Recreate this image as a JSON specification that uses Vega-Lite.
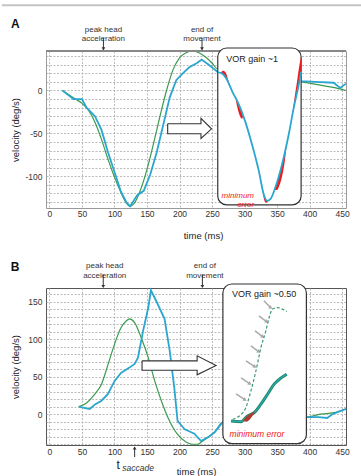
{
  "$schema": "https://vega.github.io/schema/vega-lite/v6.json",
  "padding": {"left": 0, "top": 3, "right": 0, "bottom": 0},
  "spacing": 80,
  "bounds": "flush",
  "config": {
    "font": "Liberation Sans",
    "view": {"stroke": "#999", "strokeWidth": 1},
    "axis": {"ticks": false, "domain": false, "labelFontSize": 8.5, "labelColor": "#333", "titleFontSize": 9.5, "titleFontWeight": "normal", "titleColor": "#222", "gridDash": [2, 1.5], "gridColor": "#aaa", "gridWidth": 0.8, "labelOverlap": false, "labelFlush": false},
    "text": {"font": "Liberation Sans"}
  },
  "datasets": {
    "aHead": [{"t":20,"v":0},{"t":30,"v":-5},{"t":40,"v":-10},{"t":50,"v":-15},{"t":60,"v":-23},{"t":70,"v":-37},{"t":80,"v":-57},{"t":90,"v":-80},{"t":100,"v":-101},{"t":110,"v":-119},{"t":118,"v":-131},{"t":124,"v":-135},{"t":130,"v":-132},{"t":140,"v":-116},{"t":150,"v":-92},{"t":160,"v":-62},{"t":170,"v":-30},{"t":180,"v":0},{"t":190,"v":24},{"t":200,"v":38},{"t":210,"v":44},{"t":220,"v":46},{"t":230,"v":44},{"t":240,"v":39},{"t":250,"v":32},{"t":258,"v":25},{"t":388,"v":10},{"t":410,"v":7},{"t":440,"v":3},{"t":456,"v":0}],
    "aEye": [{"t":20,"v":0},{"t":30,"v":-6},{"t":37,"v":-10},{"t":50,"v":-10},{"t":57,"v":-20},{"t":70,"v":-30},{"t":80,"v":-46},{"t":90,"v":-72},{"t":100,"v":-95},{"t":110,"v":-118},{"t":118,"v":-130},{"t":124,"v":-135},{"t":130,"v":-128},{"t":135,"v":-122},{"t":145,"v":-117},{"t":155,"v":-98},{"t":165,"v":-72},{"t":175,"v":-40},{"t":185,"v":-8},{"t":195,"v":12},{"t":205,"v":20},{"t":215,"v":27},{"t":227,"v":32},{"t":234,"v":36},{"t":245,"v":30},{"t":258,"v":22},{"t":388,"v":11},{"t":409,"v":10},{"t":437,"v":9},{"t":447,"v":3},{"t":456,"v":8}],
    "aInset": [{"t":259,"v":21},{"t":265,"v":20},{"t":272,"v":14},{"t":281,"v":-1},{"t":291,"v":-16},{"t":301,"v":-36},{"t":311.5,"v":-63},{"t":322,"v":-94},{"t":329.5,"v":-121},{"t":334.6,"v":-128.7},{"t":339.7,"v":-126.7},{"t":347.4,"v":-113},{"t":357.7,"v":-86},{"t":368,"v":-51},{"t":375.7,"v":-20},{"t":383.4,"v":7},{"t":387,"v":22}],
    "aRed": [
      {"g":1,"t":263,"v":20.3,"v2":20.3},{"g":1,"t":267,"v":18.3,"v2":23},{"g":1,"t":271,"v":15,"v2":21},{"g":1,"t":275,"v":8.3,"v2":12},{"g":1,"t":278,"v":4,"v2":4},
      {"g":2,"t":286,"v":-8.5,"v2":-8.5},{"g":2,"t":289,"v":-13,"v2":-20},{"g":2,"t":293,"v":-20,"v2":-30},{"g":2,"t":296,"v":-26,"v2":-33},{"g":2,"t":298,"v":-30,"v2":-30},
      {"g":3,"t":327,"v":-113,"v2":-113},{"g":3,"t":330,"v":-122,"v2":-127},{"g":3,"t":333,"v":-127,"v2":-131},{"g":3,"t":336,"v":-128.5,"v2":-129},
      {"g":4,"t":346,"v":-116,"v2":-116},{"g":4,"t":350,"v":-106,"v2":-116},{"g":4,"t":354,"v":-96,"v2":-110},{"g":4,"t":358,"v":-85,"v2":-99},{"g":4,"t":362,"v":-72,"v2":-82},{"g":4,"t":365,"v":-61,"v2":-61},
      {"g":5,"t":373,"v":-30,"v2":-30},{"g":5,"t":377,"v":-15,"v2":-8},{"g":5,"t":381,"v":-1,"v2":12},{"g":5,"t":384,"v":10,"v2":28},{"g":5,"t":387,"v":22,"v2":40}
    ],
    "aArrow": [{"o":1,"t":181.8,"v":-38.8},{"o":2,"t":233,"v":-38.8},{"o":3,"t":233,"v":-32.6},{"o":4,"t":249.2,"v":-44.7},{"o":5,"t":233,"v":-55.9},{"o":6,"t":233,"v":-50.5},{"o":7,"t":181.8,"v":-50.5},{"o":8,"t":181.8,"v":-38.8}],
    "bHead": [{"t":45,"v":10},{"t":57,"v":15},{"t":70,"v":27},{"t":80,"v":40},{"t":90,"v":66},{"t":100,"v":93},{"t":110,"v":115},{"t":118,"v":124},{"t":123,"v":127},{"t":131,"v":122},{"t":141,"v":102},{"t":152,"v":75},{"t":162,"v":44},{"t":172,"v":18},{"t":182,"v":-4},{"t":197,"v":-27},{"t":210,"v":-37},{"t":220,"v":-40},{"t":228,"v":-40},{"t":235,"v":-36},{"t":245,"v":-30},{"t":254,"v":-24},{"t":266,"v":-11},{"t":396,"v":-4},{"t":417,"v":0},{"t":437,"v":2},{"t":456,"v":7}],
    "bEye": [{"t":45,"v":10},{"t":55,"v":8},{"t":62,"v":7},{"t":70,"v":13},{"t":80,"v":18},{"t":90,"v":27},{"t":100,"v":44},{"t":110,"v":55},{"t":123,"v":62},{"t":131,"v":67},{"t":136,"v":75},{"t":144,"v":111},{"t":152,"v":142},{"t":156,"v":165},{"t":164,"v":151},{"t":177,"v":127},{"t":185,"v":84},{"t":192,"v":35},{"t":197,"v":-9},{"t":203,"v":-15},{"t":208,"v":-20},{"t":213,"v":-22},{"t":218,"v":-24},{"t":223,"v":-26},{"t":228,"v":-31},{"t":233,"v":-35.6},{"t":245,"v":-30},{"t":254,"v":-24},{"t":266,"v":-11},{"t":396,"v":-4},{"t":414,"v":-4},{"t":427,"v":-5},{"t":435,"v":0},{"t":456,"v":7}],
    "bDash": [{"t":281.8,"v":-6.7},{"t":299.5,"v":4.4},{"t":309.8,"v":31},{"t":317.5,"v":57.7},{"t":325.2,"v":88.7},{"t":332.8,"v":111},{"t":337.8,"v":128.7},{"t":343,"v":139.9},{"t":350.7,"v":142},{"t":358.3,"v":139.9},{"t":364.9,"v":136.7}],
    "bSolid": [{"t":279.2,"v":-8.9},{"t":294.5,"v":-9.9},{"t":304.7,"v":-2.3},{"t":314.9,"v":2.1},{"t":325.1,"v":13.3},{"t":335.4,"v":26.6},{"t":345.5,"v":40},{"t":355.7,"v":48},{"t":364.9,"v":53.3}],
    "bRed": [{"g":1,"t":298,"v":-9,"v2":-9},{"g":1,"t":303,"v":-3,"v2":-10},{"g":1,"t":308,"v":0,"v2":-7},{"g":1,"t":313,"v":2.5,"v2":-1},{"g":1,"t":316,"v":3.5,"v2":3.5}],
    "bArrow": [{"o":1,"t":142.4,"v":71},{"o":2,"t":227.1,"v":71},{"o":3,"t":227.1,"v":77.7},{"o":4,"t":256.2,"v":64.7},{"o":5,"t":227.1,"v":52.4},{"o":6,"t":227.1,"v":58.6},{"o":7,"t":142.4,"v":58.6},{"o":8,"t":142.4,"v":71}],
    "bGrey": [{"t":287.1,"v":27.1,"t2":300.8,"v2":19.1},{"t":294.6,"v":48.4,"t2":308.3,"v2":40.4},{"t":302.3,"v":71,"t2":316,"v2":63.1},{"t":309.8,"v":91,"t2":322.1,"v2":83.1},{"t":316,"v":111,"t2":328.2,"v2":103},{"t":322.1,"v":131,"t2":334.3,"v2":123},{"t":329.7,"v":151,"t2":340.4,"v2":141.6}]
  },
  "vconcat": [
    {
      "width": 300,
      "height": 157,
      "view": {"stroke": "#9a9a9a"},
      "encoding": {
        "x": {"field": "t", "type": "quantitative", "scale": {"domain": [-5.3, 456], "nice": false, "zero": false},
          "axis": {"values": [0,50,100,150,200,250,300,350,400,450], "title": "time (ms)", "titleX": 157, "titleY": 27, "titleBaseline": "middle", "labelPadding": 1.5}},
        "y": {"field": "v", "type": "quantitative", "scale": {"domain": [-137, 46], "nice": false, "zero": false},
          "axis": {"values": [-130,-120,-110,-100,-90,-80,-70,-60,-50,-40,-30,-20,-10,0,10,20,30,40], "labelExpr": "datum.value % 50 === 0 ? '' + datum.value : ''", "title": "velocity (deg/s)", "titleX": -31, "titleY": 78.5, "titleBaseline": "middle", "labelPadding": 4}}
      },
      "layer": [
        {"data": {"values": [{"t": 38, "t2": 168}]}, "mark": {"type": "rect", "fill": "#bdbdbd", "fillOpacity": 0.4}, "encoding": {"x2": {"field": "t2"}, "y": {"datum": 46}, "y2": {"datum": -137}}},
        {"data": {"values": [{"t": 38}, {"t": 168}]}, "mark": {"type": "rule", "stroke": "#555", "strokeWidth": 1.3}, "encoding": {"y": {"datum": 46}, "y2": {"datum": -137}}},
        {"data": {"values": [{"t": 176}]}, "mark": {"type": "rule", "stroke": "#666", "strokeWidth": 0.8, "strokeDash": [2, 2]}, "encoding": {"y": {"datum": 46}, "y2": {"datum": -137}}},
        {"data": {"values": [{"t": 83}, {"t": 234.6}]}, "mark": {"type": "rule", "stroke": "#333", "strokeWidth": 1.3, "strokeDash": [4, 2.5]}, "encoding": {"y": {"datum": 46}, "y2": {"datum": -137}}},
        {"data": {"name": "aHead"}, "mark": {"type": "line", "stroke": "#3c9a50", "strokeWidth": 1.2, "interpolate": "monotone"}, "encoding": {}},
        {"data": {"name": "aEye"}, "mark": {"type": "line", "stroke": "#2aa6d0", "strokeWidth": 1.8}, "encoding": {}},
        {"data": {"values": [{"t": -5.3, "t2": 456, "v": 46}]}, "mark": {"type": "rule", "stroke": "#888", "strokeWidth": 2}, "encoding": {"x2": {"field": "t2"}}},
        {"data": {"values": [{"t": -73.1, "t2": 482.3, "v": 99.2}]}, "mark": {"type": "rule", "stroke": "#c4c4c4", "strokeWidth": 2}, "encoding": {"x2": {"field": "t2"}}},
        {"data": {"name": "aArrow"}, "mark": {"type": "line", "fill": "white", "stroke": "#333", "strokeWidth": 1.1, "strokeJoin": "miter"}, "encoding": {"order": {"field": "o", "type": "quantitative"}}},
        {"data": {"values": [{"t": 258.8, "t2": 387, "v": 49.5, "v2": -133.4}]}, "mark": {"type": "rect", "fill": "white", "stroke": "#333", "strokeWidth": 1.2, "cornerRadius": 9}, "encoding": {"x2": {"field": "t2"}, "y2": {"field": "v2"}}},
        {"data": {"name": "aRed"}, "mark": {"type": "area", "color": "#ee1c1c", "interpolate": "monotone"}, "encoding": {"y2": {"field": "v2"}, "detail": {"field": "g"}}},
        {"data": {"name": "aInset"}, "mark": {"type": "line", "stroke": "#2aa6d0", "strokeWidth": 1.8, "interpolate": "monotone"}, "encoding": {}},
        {"data": {"values": [{"t": 83, "v": 61, "v2": 48}, {"t": 234.6, "v": 61, "v2": 48}]}, "mark": {"type": "rule", "stroke": "#333", "strokeWidth": 1}, "encoding": {"y2": {"field": "v2"}}},
        {"data": {"values": [{"t": 83, "v": 48.5}, {"t": 234.6, "v": 48.5}]}, "mark": {"type": "point", "shape": "triangle-down", "filled": true, "size": 14, "color": "#333", "opacity": 1}, "encoding": {}},
        {"data": {"values": [{"t": -52.6, "v": 77.4, "txt": "A"}]}, "mark": {"type": "text", "fontSize": 12, "fontWeight": "bold", "color": "#111"}, "encoding": {"text": {"field": "txt"}}},
        {"data": {"values": [{"t": 83, "v": 71, "txt": "peak head\nacceleration"}, {"t": 234.6, "v": 71, "txt": "end of\nmovement"}]}, "mark": {"type": "text", "fontSize": 8, "color": "#333", "lineBreak": "\n", "lineHeight": 9.5}, "encoding": {"text": {"field": "txt"}}},
        {"data": {"values": [{"t": 311.5, "v": 36.7, "txt": "VOR gain ~1"}]}, "mark": {"type": "text", "fontSize": 9, "color": "#222"}, "encoding": {"text": {"field": "txt"}}},
        {"data": {"values": [{"t": 314.6, "v": -122.5, "txt": "minimum\nerror"}]}, "mark": {"type": "text", "fontSize": 8, "fontStyle": "italic", "color": "#ee2020", "align": "right", "lineBreak": "\n", "lineHeight": 9}, "encoding": {"text": {"field": "txt"}}}
      ]
    },
    {
      "width": 300,
      "height": 157,
      "view": {"stroke": "#555"},
      "encoding": {
        "x": {"field": "t", "type": "quantitative", "scale": {"domain": [-5.3, 456], "nice": false, "zero": false},
          "axis": {"values": [0,50,100,150,200,250,300,350,400,450], "title": "time (ms)", "titleX": 150, "titleY": 26, "titleBaseline": "middle", "labelPadding": 2.5}},
        "y": {"field": "v", "type": "quantitative", "scale": {"domain": [-41, 168], "nice": false, "zero": false},
          "axis": {"values": [-40,-30,-20,-10,0,10,20,30,40,50,60,70,80,90,100,110,120,130,140,150,160], "labelExpr": "datum.value % 50 === 0 ? '' + datum.value : ''", "title": "velocity (deg/s)", "titleX": -31, "titleY": 78.5, "titleBaseline": "middle", "labelPadding": 4}}
      },
      "layer": [
        {"data": {"values": [{"t": 44, "t2": 131}]}, "mark": {"type": "rect", "fill": "#bdbdbd", "fillOpacity": 0.4}, "encoding": {"x2": {"field": "t2"}, "y": {"datum": 168}, "y2": {"datum": -41}}},
        {"data": {"values": [{"t": 44}, {"t": 131}]}, "mark": {"type": "rule", "stroke": "#555", "strokeWidth": 1.3}, "encoding": {"y": {"datum": 168}, "y2": {"datum": -41}}},
        {"data": {"values": [{"t": 176}]}, "mark": {"type": "rule", "stroke": "#666", "strokeWidth": 0.8, "strokeDash": [2, 2]}, "encoding": {"y": {"datum": 168}, "y2": {"datum": -41}}},
        {"data": {"values": [{"t": 82.7}, {"t": 235.2}]}, "mark": {"type": "rule", "stroke": "#333", "strokeWidth": 1.3, "strokeDash": [4, 2.5]}, "encoding": {"y": {"datum": 168}, "y2": {"datum": -41}}},
        {"data": {"name": "bHead"}, "mark": {"type": "line", "stroke": "#3c9a50", "strokeWidth": 1.2, "interpolate": "monotone"}, "encoding": {}},
        {"data": {"name": "bEye"}, "mark": {"type": "line", "stroke": "#2aa6d0", "strokeWidth": 1.8}, "encoding": {}},
        {"data": {"name": "bArrow"}, "mark": {"type": "line", "fill": "white", "stroke": "#333", "strokeWidth": 1.1, "strokeJoin": "miter"}, "encoding": {"order": {"field": "o", "type": "quantitative"}}},
        {"data": {"values": [{"t": 266.7, "t2": 395.1, "v": 173.3, "v2": -39.2}]}, "mark": {"type": "rect", "fill": "white", "stroke": "#333", "strokeWidth": 1.2, "cornerRadius": 9}, "encoding": {"x2": {"field": "t2"}, "y2": {"field": "v2"}}},
        {"data": {"name": "bGrey"}, "mark": {"type": "rule", "stroke": "#aaa", "strokeWidth": 1.5}, "encoding": {"x2": {"field": "t2"}, "y2": {"field": "v2"}}},
        {"data": {"name": "bGrey"}, "mark": {"type": "point", "shape": "triangle-right", "filled": true, "size": 18, "color": "#aaa", "opacity": 1, "angle": 34}, "encoding": {"x": {"field": "t2", "type": "quantitative"}, "y": {"field": "v2", "type": "quantitative"}}},
        {"data": {"name": "bDash"}, "mark": {"type": "line", "stroke": "#3f9b70", "strokeWidth": 1.2, "strokeDash": [3, 2], "interpolate": "monotone"}, "encoding": {}},
        {"data": {"name": "bSolid"}, "mark": {"type": "line", "stroke": "#1f8a5a", "strokeWidth": 3, "interpolate": "monotone"}, "encoding": {}},
        {"data": {"name": "bSolid"}, "mark": {"type": "line", "stroke": "#2aa6c0", "strokeWidth": 1.2, "interpolate": "monotone"}, "encoding": {}},
        {"data": {"name": "bRed"}, "mark": {"type": "area", "color": "#b03a2e", "interpolate": "monotone"}, "encoding": {"y2": {"field": "v2"}, "detail": {"field": "g"}}},
        {"data": {"values": [{"t": 82.7, "v": 186, "v2": 169.5}, {"t": 235.2, "v": 186, "v2": 169.5}]}, "mark": {"type": "rule", "stroke": "#333", "strokeWidth": 1}, "encoding": {"y2": {"field": "v2"}}},
        {"data": {"values": [{"t": 82.7, "v": 170}, {"t": 235.2, "v": 170}]}, "mark": {"type": "point", "shape": "triangle-down", "filled": true, "size": 14, "color": "#333", "opacity": 1}, "encoding": {}},
        {"data": {"values": [{"t": 131, "v": -57, "v2": -44}]}, "mark": {"type": "rule", "stroke": "#333", "strokeWidth": 1}, "encoding": {"y2": {"field": "v2"}}},
        {"data": {"values": [{"t": 131, "v": -45}]}, "mark": {"type": "point", "shape": "triangle-up", "filled": true, "size": 14, "color": "#333", "opacity": 1}, "encoding": {}},
        {"data": {"values": [{"t": -52.7, "v": 195.3, "txt": "B"}]}, "mark": {"type": "text", "fontSize": 12, "fontWeight": "bold", "color": "#111"}, "encoding": {"text": {"field": "txt"}}},
        {"data": {"values": [{"t": 85, "v": 196.9, "txt": "peak head\nacceleration"}, {"t": 239, "v": 196.9, "txt": "end of\nmovement"}]}, "mark": {"type": "text", "fontSize": 8, "color": "#333", "lineBreak": "\n", "lineHeight": 9.5}, "encoding": {"text": {"field": "txt"}}},
        {"data": {"values": [{"t": 330.2, "v": 160, "txt": "VOR gain ~0.50"}]}, "mark": {"type": "text", "fontSize": 9, "color": "#222"}, "encoding": {"text": {"field": "txt"}}},
        {"data": {"values": [{"t": 319.1, "v": -26.6, "txt": "minimum error"}]}, "mark": {"type": "text", "fontSize": 8.5, "fontStyle": "italic", "color": "#ee2020"}, "encoding": {"text": {"field": "txt"}}},
        {"data": {"values": [{"t": 105.7, "v": -67.5, "txt": "t"}]}, "mark": {"type": "text", "fontSize": 12, "color": "#222"}, "encoding": {"text": {"field": "txt"}}},
        {"data": {"values": [{"t": 136.3, "v": -72, "txt": "saccade"}]}, "mark": {"type": "text", "fontSize": 8.5, "fontStyle": "italic", "color": "#333"}, "encoding": {"text": {"field": "txt"}}}
      ]
    }
  ]
}
